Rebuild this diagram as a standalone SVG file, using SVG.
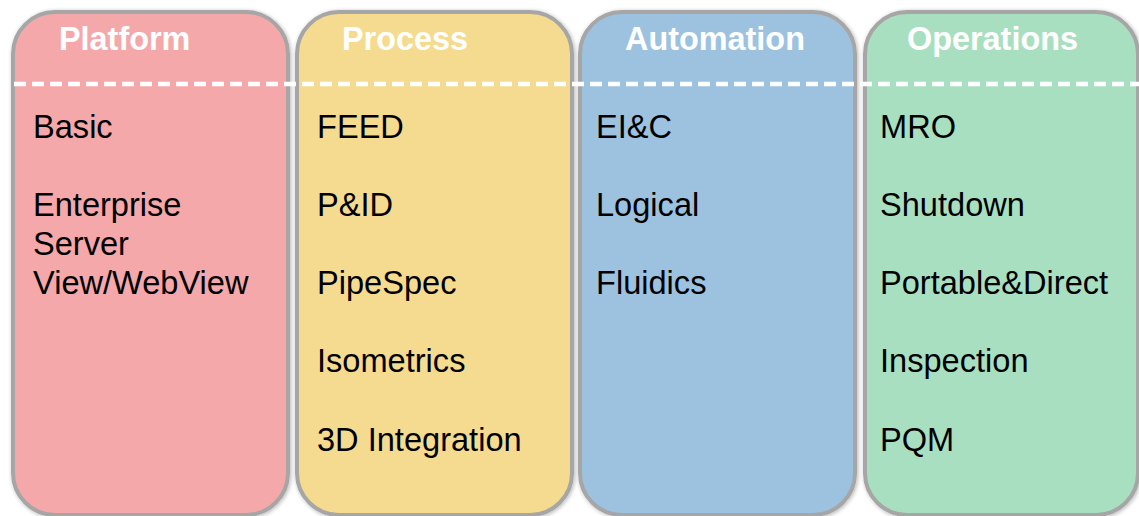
<svg xmlns="http://www.w3.org/2000/svg" width="1139" height="516" viewBox="0 0 1139 516">
<defs>
<filter id="sh" x="-5%" y="-5%" width="110%" height="110%">
<feGaussianBlur in="SourceAlpha" stdDeviation="2"/>
<feOffset dx="1" dy="1"/>
<feComponentTransfer><feFuncA type="linear" slope="0.3"/></feComponentTransfer>
<feMerge><feMergeNode/><feMergeNode in="SourceGraphic"/></feMerge>
</filter>
</defs>
<style>
.box{stroke:#a6a6a6;stroke-width:4;filter:url(#sh)}
.hd{font-family:"Liberation Sans",Arial,sans-serif;font-weight:bold;font-size:32.4px;fill:#fff}
.it{font-family:"Liberation Sans",Arial,sans-serif;font-size:32.6px;fill:#000}
.dash{stroke:#fff;stroke-width:4.5;stroke-dasharray:12 6;fill:none}
</style>
<rect width="1139" height="516" fill="#fff"/>
<g id="platform">
<rect class="box" x="13" y="12" width="275" height="503" rx="42" fill="#f5a8a9"/>
<text class="hd" x="59" y="50">Platform</text>
<text class="it" x="33" y="138">Basic</text>
<text class="it" x="33" y="216">Enterprise</text>
<text class="it" x="33" y="255">Server</text>
<text class="it" x="33" y="294">View/WebView</text>
</g>
<g id="process">
<rect class="box" x="297" y="12" width="275" height="503" rx="42" fill="#f5db8f"/>
<text class="hd" x="342" y="50">Process</text>
<text class="it" x="317" y="138">FEED</text>
<text class="it" x="317" y="216">P&amp;ID</text>
<text class="it" x="317" y="294">PipeSpec</text>
<text class="it" x="317" y="372">Isometrics</text>
<text class="it" x="317" y="451">3D Integration</text>
</g>
<g id="automation">
<rect class="box" x="580" y="12" width="275" height="503" rx="42" fill="#9cc2df"/>
<text class="hd" x="625" y="50">Automation</text>
<text class="it" x="596" y="138">EI&amp;C</text>
<text class="it" x="596" y="216">Logical</text>
<text class="it" x="596" y="294">Fluidics</text>
</g>
<g id="operations">
<rect class="box" x="865" y="12" width="273" height="503" rx="42" fill="#a9dfc1"/>
<text class="hd" x="907" y="50">Operations</text>
<text class="it" x="880" y="138">MRO</text>
<text class="it" x="880" y="216">Shutdown</text>
<text class="it" x="880" y="294">Portable&amp;Direct</text>
<text class="it" x="880" y="372">Inspection</text>
<text class="it" x="880" y="451">PQM</text>
</g>
<g id="connectors">
<line class="dash" x1="14" y1="84" x2="1139" y2="84"/>
</g>
</svg>
